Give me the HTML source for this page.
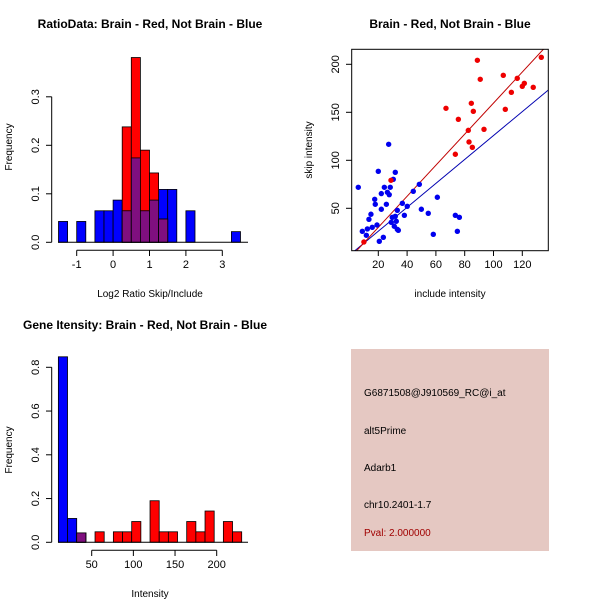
<!DOCTYPE html>
<html><head><meta charset="utf-8"><style>
body{margin:0;background:#fff}
svg{display:block;font-family:"Liberation Sans",sans-serif}
</style></head><body>
<svg id="s" width="600" height="600" viewBox="0 0 600 600">
<rect x="0" y="0" width="600" height="600" fill="#fff"/>
<text x="150" y="28" text-anchor="middle" font-size="12" font-weight="bold">RatioData: Brain - Red, Not Brain - Blue</text>
<text x="450" y="28" text-anchor="middle" font-size="12" font-weight="bold">Brain - Red, Not Brain - Blue</text>
<text x="145" y="329" text-anchor="middle" font-size="12" font-weight="bold">Gene Itensity: Brain - Red, Not Brain - Blue</text>
<text x="150" y="297" text-anchor="middle" font-size="10">Log2 Ratio Skip/Include</text>
<text transform="translate(12,147) rotate(-90)" text-anchor="middle" font-size="10">Frequency</text>
<text x="450" y="297" text-anchor="middle" font-size="10">include intensity</text>
<text transform="translate(312,150) rotate(-90)" text-anchor="middle" font-size="10">skip intensity</text>
<text x="150" y="597" text-anchor="middle" font-size="10">Intensity</text>
<text transform="translate(12,450) rotate(-90)" text-anchor="middle" font-size="10">Frequency</text>
<g>
<rect x="351" y="349" width="198" height="202" fill="#e5c8c2"/>
<text x="364" y="396" font-size="10">G6871508@J910569_RC@i_at</text>
<text x="364" y="434" font-size="10">alt5Prime</text>
<text x="364" y="471" font-size="10">Adarb1</text>
<text x="364" y="508" font-size="10">chr10.2401-1.7</text>
<text x="364" y="536" font-size="10" fill="#a00000">Pval: 2.000000</text>
</g>
<g id="g1"></g>
<g id="g2"></g>
<g id="g3"></g>
</svg>
<script>
const ratioBlueStarts=[-1.5,-1,-0.5,-0.25,0,0.25,0.5,0.75,1,1.25,1.5,2,3.25];
const ratioBlueVals=[0.043,0.043,0.065,0.065,0.087,0.065,0.174,0.065,0.087,0.109,0.109,0.065,0.022];
const ratioRedStarts=[0.25,0.5,0.75,1,1.25];
const ratioRedVals=[0.238,0.381,0.190,0.143,0.048];
const ratioXTicks=[-1,0,1,2,3];
const ratioYTicks=[0,0.1,0.2,0.3];
const redX=[10.0,28.8,67.0,75.6,82.5,73.5,83.0,85.3,84.6,86.0,88.8,90.8,93.4,106.8,108.2,112.4,116.5,120.0,121.4,127.6,133.2];
const redY=[14.9,79.2,154.2,142.7,131.2,106.3,119.1,113.5,159.4,151.0,204.2,184.4,132.3,188.5,153.1,170.8,185.4,177.1,180.2,176.0,207.3];
const blueX=[6.1,8.9,11.7,12.4,13.5,14.9,15.8,17.5,17.9,19.1,20.0,20.7,22.1,22.1,23.5,24.2,25.6,26.3,27.2,27.6,28.3,29.0,29.7,30.4,31.1,31.8,31.8,32.5,33.2,33.2,33.9,36.7,38.1,40.1,44.3,48.5,49.9,54.7,58.2,61.0,73.5,74.9,76.3];
const blueY=[71.9,26.0,21.9,28.5,38.5,43.8,30.2,59.4,54.2,32.6,88.5,15.6,65.3,49.0,19.8,71.9,54.2,66.7,116.7,64.2,71.9,35.4,40.6,80.2,31.3,87.5,41.7,36.5,47.9,28.1,27.1,55.2,42.7,52.1,67.7,75.0,49.0,44.8,22.9,61.5,42.7,26.0,40.6];
const redFit=[-2.2,1.618];
const blueFit=[1.2,1.246];
const scatXTicks=[20,40,60,80,100,120];
const scatYTicks=[50,100,150,200];
const intBlueBins=[0,1,2];
const intBlueVals=[0.848,0.109,0.043];
const intRedBins=[2,4,6,7,8,10,11,12,14,15,16,18,19];
const intRedVals=[0.043,0.048,0.048,0.048,0.095,0.19,0.048,0.048,0.095,0.048,0.143,0.095,0.048];
const intXTicks=[50,100,150,200];
const intYTicks=[0,0.2,0.4,0.6,0.8];

const NS='http://www.w3.org/2000/svg';
function mk(p,t,a){const e=document.createElementNS(NS,t);for(const k in a)e.setAttribute(k,a[k]);p.appendChild(e);return e;}
const FS=11;

(function(){
const g=document.getElementById('g1');
const X=v=>76.7+(v+1)*36.4, Y=v=>242.3-v*485;
ratioBlueStarts.forEach((s,i)=>{const r=mk(g,'rect',{x:X(s),y:Y(ratioBlueVals[i]),width:X(s+0.25)-X(s),height:Y(0)-Y(ratioBlueVals[i]),fill:'#0000ff',stroke:'#000','stroke-width':0.8});

});
ratioRedStarts.forEach((s,i)=>{const r=mk(g,'rect',{x:X(s),y:Y(ratioRedVals[i]),width:X(s+0.25)-X(s),height:Y(0)-Y(ratioRedVals[i]),fill:'#ff0000',stroke:'#000','stroke-width':0.8});


const bi=ratioBlueStarts.indexOf(s);if(bi>=0){const m=Math.min(ratioBlueVals[bi],ratioRedVals[i]);
const p=mk(g,'rect',{x:X(s),y:Y(m),width:X(s+0.25)-X(s),height:Y(0)-Y(m),fill:'#7f0f7f',stroke:'#000','stroke-width':0.8});

}});
mk(g,'line',{x1:58,x2:248,y1:Y(0),y2:Y(0),stroke:'#000'});
mk(g,'line',{x1:51.7,x2:51.7,y1:Y(0),y2:Y(0.3),stroke:'#000'});
ratioYTicks.forEach(v=>{mk(g,'line',{x1:46,x2:51.7,y1:Y(v),y2:Y(v),stroke:'#000'});
const t=mk(g,'text',{transform:`translate(39,${Y(v)}) rotate(-90)`,'text-anchor':'middle','font-size':FS});t.textContent=v.toFixed(1);});
mk(g,'line',{x1:X(-1),x2:X(3),y1:250.3,y2:250.3,stroke:'#000'});
ratioXTicks.forEach(v=>{mk(g,'line',{x1:X(v),x2:X(v),y1:250.3,y2:256,stroke:'#000'});
const t=mk(g,'text',{x:X(v),y:268,'text-anchor':'middle','font-size':FS});t.textContent=v;});
})();

(function(){
const g=document.getElementById('g2');
const X=v=>378.3+(v-20)*1.44, Y=v=>64.3-(v-200)*0.96;
mk(g,'defs',{}).innerHTML='<clipPath id="cp"><rect x="351.7" y="49.3" width="196.6" height="201.4"/></clipPath>';
const lines=[[blueFit,'#0000b0'],[redFit,'#c00000']];
lines.forEach(([f,c])=>{const l=mk(g,'line',{x1:X(0),y1:Y(f[0]),x2:X(140),y2:Y(f[0]+f[1]*140),stroke:c,'stroke-width':1,'clip-path':'url(#cp)'});

});
blueX.forEach((x,i)=>{const c=mk(g,'circle',{cx:X(x),cy:Y(blueY[i]),r:2.7,fill:'#0000ee'});

});
redX.forEach((x,i)=>{const c=mk(g,'circle',{cx:X(x),cy:Y(redY[i]),r:2.7,fill:'#ee0000'});

});
mk(g,'rect',{x:351.7,y:49.3,width:196.6,height:201.4,fill:'none',stroke:'#000'});
scatXTicks.forEach(v=>{mk(g,'line',{x1:X(v),x2:X(v),y1:250.7,y2:256,stroke:'#000'});
const t=mk(g,'text',{x:X(v),y:268,'text-anchor':'middle','font-size':FS});t.textContent=v;});
scatYTicks.forEach(v=>{mk(g,'line',{x1:346,x2:351.7,y1:Y(v),y2:Y(v),stroke:'#000'});
const t=mk(g,'text',{transform:`translate(339,${Y(v)}) rotate(-90)`,'text-anchor':'middle','font-size':FS});t.textContent=v;});
})();

(function(){
const g=document.getElementById('g3');
const X=v=>91.7+(v-50)*0.8333, Y=v=>542.3-v*218.75;
const bx=i=>X(10+11*i), bw=X(21)-X(10);
intBlueBins.forEach((b,i)=>{const r=mk(g,'rect',{x:bx(b),y:Y(intBlueVals[i]),width:bw,height:Y(0)-Y(intBlueVals[i]),fill:'#0000ff',stroke:'#000','stroke-width':0.8});

});
intRedBins.forEach((b,i)=>{const r=mk(g,'rect',{x:bx(b),y:Y(intRedVals[i]),width:bw,height:Y(0)-Y(intRedVals[i]),fill:'#ff0000',stroke:'#000','stroke-width':0.8});


const bi=intBlueBins.indexOf(b);if(bi>=0){const m=Math.min(intBlueVals[bi],intRedVals[i]);
const p=mk(g,'rect',{x:bx(b),y:Y(m),width:bw,height:Y(0)-Y(m),fill:'#7f0f7f',stroke:'#000','stroke-width':0.8});

}});
mk(g,'line',{x1:58,x2:248,y1:Y(0),y2:Y(0),stroke:'#000'});
mk(g,'line',{x1:51.7,x2:51.7,y1:Y(0),y2:Y(0.8),stroke:'#000'});
intYTicks.forEach(v=>{mk(g,'line',{x1:46,x2:51.7,y1:Y(v),y2:Y(v),stroke:'#000'});
const t=mk(g,'text',{transform:`translate(39,${Y(v)}) rotate(-90)`,'text-anchor':'middle','font-size':FS});t.textContent=v.toFixed(1);});
mk(g,'line',{x1:X(50),x2:X(200),y1:550.3,y2:550.3,stroke:'#000'});
intXTicks.forEach(v=>{mk(g,'line',{x1:X(v),x2:X(v),y1:550.3,y2:556,stroke:'#000'});
const t=mk(g,'text',{x:X(v),y:568,'text-anchor':'middle','font-size':FS});t.textContent=v;});
})();
</script>
</body></html>
